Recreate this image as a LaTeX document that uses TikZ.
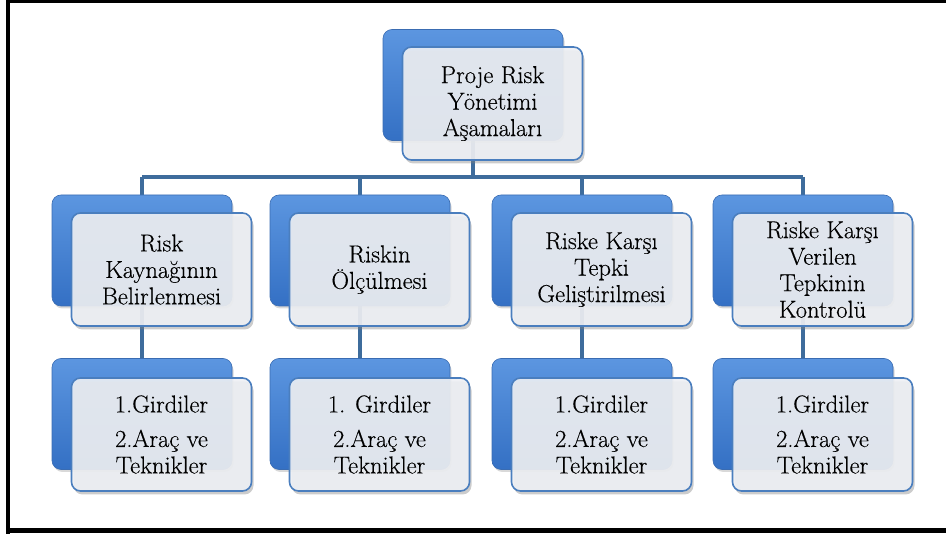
\documentclass[tikz,border=0pt]{standalone}
\usepackage{fontspec}
\newfontfamily\cardface{Latin Modern Roman}[FakeBold=0.35]
\usetikzlibrary{shadows,calc}
\pgfdeclarelayer{background}
\pgfsetlayers{background,main}

\definecolor{bluetop}{RGB}{92,150,224}
\definecolor{bluebot}{RGB}{52,112,196}
\definecolor{blueedge}{RGB}{58,108,178}
\definecolor{cardfill}{RGB}{238,240,244}
\definecolor{cardedge}{RGB}{74,126,190}
\definecolor{linkcol}{RGB}{62,108,156}

\tikzset{
  backbox/.style={rectangle, rounded corners=9pt, minimum width=180pt,
    minimum height=111pt, top color=bluetop, bottom color=bluebot,
    draw=blueedge, line width=0.6pt,
    drop shadow={shadow xshift=1.5pt, shadow yshift=-2.5pt, opacity=0.3}},
  card/.style={rectangle, rounded corners=9pt, minimum width=180pt,
    minimum height=113pt, fill=cardfill, fill opacity=0.9, text opacity=1,
    draw=cardedge, line width=1.6pt, align=center, text=black,
    font=\cardface\fontsize{24.5}{26.5}\selectfont,
    drop shadow={shadow xshift=2pt, shadow yshift=-3.5pt, opacity=0.4}},
  link/.style={draw=linkcol, line width=4pt},
  frameline/.style={draw=black}
}

\begin{document}
\begin{tikzpicture}[x=1pt, y=-1pt]
\useasboundingbox (0,0) rectangle (946,534);

% outer frame (top, left and bottom edges)
\draw[frameline, line width=3pt] (6,1.5) -- (946,1.5);
\draw[frameline, line width=4pt] (8,0) -- (8,534);
\draw[frameline, line width=5.5pt] (6,530.7) -- (946,530.7);

% root
\node[backbox] (rootb) at (473,85) {};
\node[card] (root) at ($(rootb)+(19.5,18.5)$) {Proje Risk\\Yönetimi\\Aşamaları};

% second level: phases
\node[backbox] (p1b) at (142,250.5) {};
\node[backbox] (p2b) at (360,250.5) {};
\node[backbox] (p3b) at (582,250.5) {};
\node[backbox] (p4b) at (803,250.5) {};
\node[card] (p1) at ($(p1b)+(19.5,19)$) {Risk\\Kaynağının\\Belirlenmesi};
\node[card] (p2) at ($(p2b)+(19.5,19)$) {Riskin\\Ölçülmesi};
\node[card] (p3) at ($(p3b)+(19.5,19)$) {Riske Karşı\\Tepki\\Geliştirilmesi};
\node[card] (p4) at ($(p4b)+(19.5,19)$) {Riske Karşı\\Verilen\\Tepkinin\\Kontrolü};

% third level: inputs, tools and techniques
\node[backbox] (d1b) at (142,414) {};
\node[backbox] (d2b) at (360,414) {};
\node[backbox] (d3b) at (582,414) {};
\node[backbox] (d4b) at (803,414) {};
\node[card] (d1) at ($(d1b)+(19.5,20.5)$) {1.Girdiler\\[8pt]2.Araç ve\\Teknikler};
\node[card] (d2) at ($(d2b)+(19.5,20.5)$) {1. Girdiler\\[8pt]2.Araç ve\\Teknikler};
\node[card] (d3) at ($(d3b)+(19.5,20.5)$) {1.Girdiler\\[8pt]2.Araç ve\\Teknikler};
\node[card] (d4) at ($(d4b)+(19.5,20.5)$) {1.Girdiler\\[8pt]2.Araç ve\\Teknikler};

% connectors, kept behind the boxes
\coordinate (bus) at (473,177);
\begin{pgfonlayer}{background}
  \draw[link] (rootb.center) -- (rootb.center |- bus);
  \draw[link] (p1b.center |- bus) -- (p4b.center |- bus);
  \foreach \k in {1,2,3,4} {
    \draw[link] (p\k b.center |- bus) -- (p\k b.center);
    \draw[link] (p\k b.center) -- (d\k b.center);
  }
\end{pgfonlayer}
\end{tikzpicture}
\end{document}
